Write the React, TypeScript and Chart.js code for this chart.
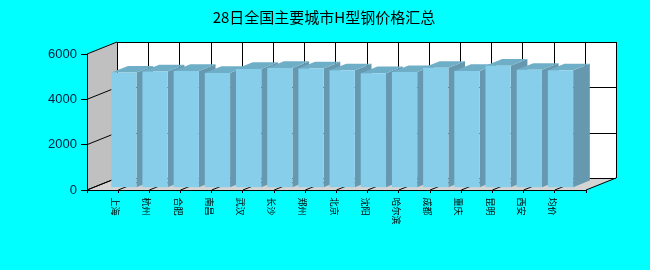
import React, { useEffect, useRef } from 'react';
import { Chart, registerables } from 'chart.js';

Chart.register(...registerables);

const TITLE = '28日全国主要城市H型钢价格汇总';
const CITIES = ['上海', '杭州', '合肥', '南昌', '武汉', '长沙', '郑州', '北京', '沈阳', '哈尔滨', '成都', '重庆', '昆明', '西安', '均价'];
const PRICES = [5080, 5130, 5150, 5060, 5240, 5280, 5260, 5180, 5050, 5100, 5290, 5150, 5380, 5200, 5180];
const Y_TICKS = [0, 2000, 4000, 6000];
const Y_MAX = 6000;
const Y_STEP = 2000;

// 3D projection settings (styles, not data)
const DX = 30;
const DY = -12;
const BAR_F = 0.19;
const BAR_D = 0.556;
const FRONT = '#87CEEB';
const TOP = '#6FAEC7';
const SIDE = '#6699B0';

function poly(ctx: CanvasRenderingContext2D, pts: number[][], fill: string) {
  ctx.beginPath();
  ctx.moveTo(pts[0][0], pts[0][1]);
  for (let i = 1; i < pts.length; i++) ctx.lineTo(pts[i][0], pts[i][1]);
  ctx.closePath();
  ctx.fillStyle = fill;
  ctx.fill();
}

function line(ctx: CanvasRenderingContext2D, x1: number, y1: number, x2: number, y2: number) {
  ctx.beginPath();
  ctx.moveTo(x1, y1);
  ctx.lineTo(x2, y2);
  ctx.stroke();
}

const threeD = {
  id: 'threeD',
  beforeDraw(chart: any) {
    const { ctx, chartArea: a, scales } = chart;
    const x = scales.x;
    const y = scales.y;
    const L = a.left;
    const R = a.right;
    const T = y.getPixelForValue(Y_MAX);
    const B = y.getPixelForValue(0);
    ctx.save();
    ctx.fillStyle = '#00FFFF';
    ctx.fillRect(0, 0, chart.width, chart.height);
    // back wall
    ctx.fillStyle = '#FFFFFF';
    ctx.fillRect(L + DX, T + DY, R - L, B - T);
    // left wall
    poly(ctx, [[L, T], [L + DX, T + DY], [L + DX, B + DY], [L, B]], '#C0C0C0');
    // floor
    poly(ctx, [[L, B], [R, B], [R + DX, B + DY], [L + DX, B + DY]], '#D4D4D4');

    ctx.strokeStyle = '#000000';
    ctx.lineWidth = 1;
    // back wall horizontal grid
    Y_TICKS.forEach((v) => {
      const py = Math.round(y.getPixelForValue(v) + DY) + 0.5;
      line(ctx, L + DX, py, R + DX, py);
    });
    // back wall vertical grid + floor lines
    const ticks = x.ticks;
    ticks.forEach((t: any) => {
      const px = x.getPixelForValue(t.value);
      const bx = Math.round(px + DX) + 0.5;
      line(ctx, bx, T + DY, bx, B + DY);
      line(ctx, px, B, px + DX, B + DY);
    });
    // left wall diagonals
    Y_TICKS.forEach((v) => {
      const py = y.getPixelForValue(v);
      line(ctx, L, py, L + DX, py + DY);
    });
    ctx.restore();
  },
  beforeDatasetsDraw(chart: any) {
    const { ctx } = chart;
    const meta = chart.getDatasetMeta(0);
    const ox = BAR_F * DX;
    const oy = BAR_F * DY;
    const bx = BAR_D * DX;
    const by = BAR_D * DY;
    ctx.save();
    meta.data.forEach((el: any) => {
      const p = el.getProps(['x', 'y', 'base', 'width'], true);
      const l = p.x - p.width / 2 + ox;
      const r = p.x + p.width / 2 + ox;
      const t = p.y + oy;
      const b = p.base + oy;
      poly(ctx, [[r, t], [r + bx, t + by], [r + bx, b + by], [r, b]], SIDE);
      poly(ctx, [[l, t], [r, t], [r + bx, t + by], [l + bx, t + by]], TOP);
    });
    ctx.restore();
    ctx.save();
    ctx.translate(ox, oy);
  },
  afterDatasetsDraw(chart: any) {
    chart.ctx.restore();
  },
  afterDraw(chart: any) {
    const { ctx, scales } = chart;
    const x = scales.x;
    ctx.save();
    ctx.fillStyle = '#000000';
    ctx.font = '9px "Noto Sans CJK SC"';
    ctx.textAlign = 'left';
    ctx.textBaseline = 'middle';
    CITIES.forEach((c, i) => {
      const px = x.getPixelForValue(i) - 2.5;
      ctx.save();
      ctx.translate(px, 197.5);
      ctx.rotate(Math.PI / 2);
      ctx.fillText(c, 0, 0);
      ctx.restore();
    });
    ctx.font = '15px "Noto Sans CJK SC"';
    ctx.textAlign = 'center';
    ctx.fillStyle = '#000000';
    ctx.fillText(TITLE, 324, 17);
    ctx.restore();
  },
};

export default function App() {
  const ref = useRef<HTMLCanvasElement | null>(null);
  useEffect(() => {
    document.body.style.margin = '0';
    if (!ref.current) return;
    const chart = new Chart(ref.current, {
      type: 'bar',
      data: {
        datasets: [
          {
            label: TITLE,
            data: PRICES.map((v, i) => ({ x: i, y: v })),
            backgroundColor: FRONT,
            borderWidth: 0,
            categoryPercentage: 1,
            barPercentage: 0.81,
          },
        ],
      },
      options: {
        responsive: false,
        animation: false,
        devicePixelRatio: 1,
        layout: { padding: { top: 54, right: 64, left: 0, bottom: 0 } },
        plugins: {
          legend: { display: false },
          tooltip: { enabled: false },
          title: { display: false },
        },
        scales: {
          x: {
            type: 'linear',
            min: -1,
            max: CITIES.length,
            offset: false,
            ticks: { stepSize: 1, display: false },
            grid: { display: true, offset: false, drawOnChartArea: false, drawTicks: true, tickLength: 3, color: '#000000' },
            border: { display: true, color: '#000000' },
            afterFit: (s: any) => {
              s.height = 80;
            },
          },
          y: {
            min: 0,
            max: Y_MAX,
            ticks: {
              stepSize: Y_STEP,
              color: '#001f3f',
              padding: 4,
              font: { family: '"Liberation Sans", Arial, sans-serif', size: 13 },
              callback: (v: any) => String(v),
            },
            grid: { display: true, drawOnChartArea: false, drawTicks: true, tickLength: 6, color: '#000000' },
            border: { display: true, color: '#000000' },
            afterFit: (s: any) => {
              s.width = 87;
            },
          },
        },
      },
      plugins: [threeD],
    } as any);
    return () => chart.destroy();
  }, []);
  return (
    <div style={{ width: 650, height: 270, background: '#00FFFF' }}>
      <canvas ref={ref} width={650} height={270} style={{ display: 'block' }} />
    </div>
  );
}
